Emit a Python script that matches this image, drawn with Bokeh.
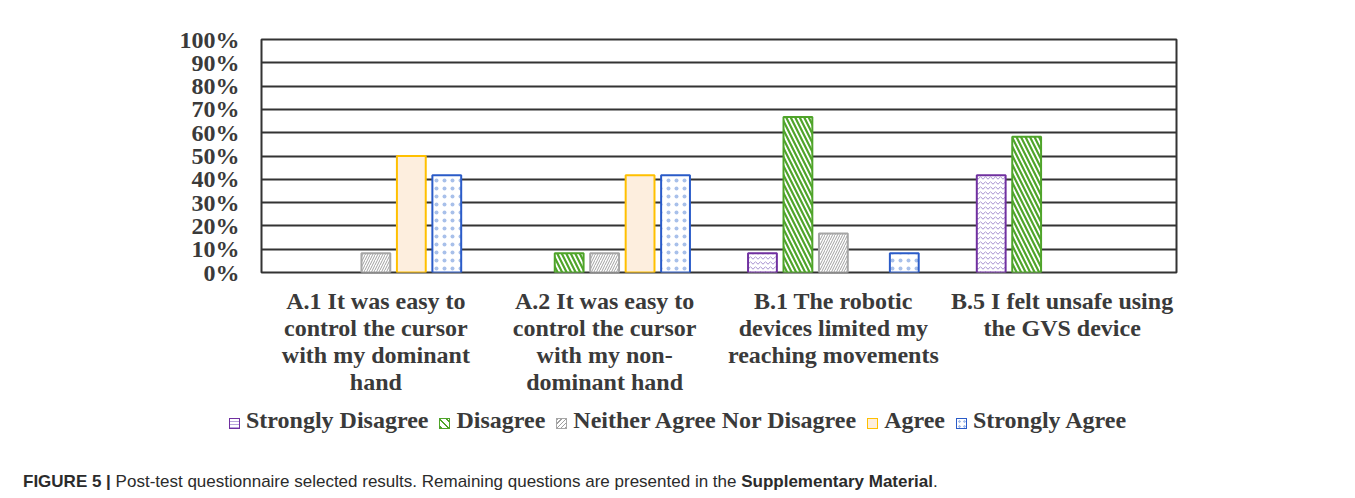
from bokeh.plotting import figure
from bokeh.models import ColumnDataSource, FixedTicker, Column, Div
from bokeh.transform import dodge
from bokeh.embed import file_html
from bokeh.resources import INLINE

# ---------------- data ----------------
categories = [
    "A.1 It was easy to\ncontrol the cursor\nwith my dominant\nhand",
    "A.2 It was easy to\ncontrol the cursor\nwith my non-\ndominant hand",
    "B.1 The robotic\ndevices limited my\nreaching movements",
    "B.5 I felt unsafe using\nthe GVS device",
]
series_names = ["Strongly Disagree", "Disagree", "Neither Agree Nor Disagree",
                "Agree", "Strongly Agree"]
strongly_disagree = [0.0, 0.0, 8.3, 41.7]
disagree = [0.0, 8.3, 66.7, 58.3]
neither = [8.3, 8.3, 16.7, 0.0]
agree = [50.0, 41.7, 0.0, 0.0]
strongly_agree = [41.7, 41.7, 8.3, 0.0]
y_ticks = [0, 10, 20, 30, 40, 50, 60, 70, 80, 90, 100]
y_tick_labels = ["0%", "10%", "20%", "30%", "40%", "50%", "60%", "70%", "80%", "90%", "100%"]
caption_bold_1 = "FIGURE 5 |"
caption_text = "Post-test questionnaire selected results. Remaining questions are presented in the"
caption_bold_2 = "Supplementary Material"

series_values = [strongly_disagree, disagree, neither, agree, strongly_agree]

# ---------------- styles ----------------
styles = [
    dict(line_color="#7030a0", fill_color="#ffffff", hatch_pattern="horizontal_wave",
         hatch_color="#a58fcf", hatch_scale=5, hatch_weight=1.0,
         swatch_bg="repeating-linear-gradient(0deg, #b9a5dc 0 1px, #ffffff 1px 3px)"),
    dict(line_color="#4fa42a", fill_color="#ffffff", hatch_pattern="left_diagonal_line",
         hatch_color="#4fa42a", hatch_scale=9, hatch_weight=2.2,
         swatch_bg="repeating-linear-gradient(45deg, #4fa42a 0 2px, #ffffff 2px 5px)"),
    dict(line_color="#a6a6a6", fill_color="#ffffff", hatch_pattern="right_diagonal_line",
         hatch_color="#a0a0a0", hatch_scale=5, hatch_weight=1.0,
         swatch_bg="repeating-linear-gradient(-45deg, #a0a0a0 0 1px, #ffffff 1px 3px)"),
    dict(line_color="#ffc000", fill_color="#fdeede", hatch_pattern=None,
         hatch_color="#fdeede", hatch_scale=6, hatch_weight=1.0,
         swatch_bg="#fdeede"),
    dict(line_color="#2a5bc8", fill_color="#ffffff", hatch_pattern="dot",
         hatch_color="#a8c0ea", hatch_scale=8, hatch_weight=1.0,
         swatch_bg="radial-gradient(#a8c0ea 1px, #ffffff 1.5px) 0 0 / 5px 5px"),
]
offsets = [-0.31, -0.155, 0.0, 0.155, 0.31]
bar_width = 0.126

SERIF = "Liberation Serif"
SANS = "Liberation Sans"
TXT = "#3a3a3a"

W = 1339
p = figure(x_range=categories, y_range=(0, 100), width=W, height=400,
           output_backend="svg", toolbar_location=None,
           min_border_left=261, min_border_right=W - 1176,
           min_border_top=39, min_border_bottom=128)

for name, vals, st, off in zip(series_names, series_values, styles, offsets):
    cats = [c for c, v in zip(categories, vals) if v > 0]
    vs = [v for v in vals if v > 0]
    src = ColumnDataSource(dict(cat=cats, val=vs))
    kw = dict(line_color=st["line_color"], fill_color=st["fill_color"], line_width=2)
    if st["hatch_pattern"]:
        kw.update(hatch_pattern=st["hatch_pattern"], hatch_color=st["hatch_color"],
                  hatch_scale=st["hatch_scale"], hatch_weight=st["hatch_weight"])
    p.vbar(x=dodge("cat", off, range=p.x_range), top="val", bottom=0,
           width=bar_width, source=src, **kw)

# grid / outline
p.xgrid.grid_line_color = None
p.ygrid.ticker = FixedTicker(ticks=y_ticks)
p.ygrid.grid_line_color = "#333333"
p.ygrid.grid_line_width = 2
p.outline_line_color = "#333333"
p.outline_line_width = 2
p.background_fill_color = "white"
p.border_fill_color = "white"

# y axis
p.yaxis.ticker = FixedTicker(ticks=y_ticks)
p.yaxis.major_label_overrides = {t: l for t, l in zip(y_ticks, y_tick_labels)}
p.yaxis.major_label_text_font = SERIF
p.yaxis.major_label_text_font_style = "bold"
p.yaxis.major_label_text_font_size = "24px"
p.yaxis.major_label_text_color = TXT
p.yaxis.major_label_standoff = 16
p.yaxis.axis_line_color = None
p.yaxis.major_tick_line_color = None
p.yaxis.minor_tick_line_color = None

# x axis
p.xaxis.major_label_text_font = SERIF
p.xaxis.major_label_text_font_style = "bold"
p.xaxis.major_label_text_font_size = "24px"
p.xaxis.major_label_text_color = TXT
p.xaxis.major_label_text_line_height = 1.04
p.xaxis.major_label_standoff = 9
p.xaxis.axis_line_color = None
p.xaxis.major_tick_line_color = None
p.xaxis.minor_tick_line_color = None

# legend row (HTML, built from the series names and their styles)
legend_html = ""
for name, st in zip(series_names, styles):
    legend_html += (
        f'<span style="display:inline-block;width:11px;height:11px;'
        f'border:1.5px solid {st["line_color"]};background:{st["swatch_bg"]};'
        f'vertical-align:-1px;margin-right:6px"></span>'
        f'<span style="margin-right:11px">{name}</span>')
legend_div = Div(text=legend_html, width=1100, height=34,
                 styles={"font-family": SERIF, "font-weight": "bold", "font-size": "24px",
                         "color": TXT, "margin-left": "229px", "line-height": "30px",
                         "white-space": "nowrap"})

caption = Div(
    text=f"<b>{caption_bold_1}</b> {caption_text} <b>{caption_bold_2}</b>.",
    width=1300, height=22,
    styles={"font-family": SANS, "font-size": "17px", "color": "#2b2b2b",
            "margin-left": "23px", "margin-top": "26px", "white-space": "nowrap"})

layout = Column(p, legend_div, caption, spacing=0)

open("out.html", "w").write(file_html(layout, INLINE))
